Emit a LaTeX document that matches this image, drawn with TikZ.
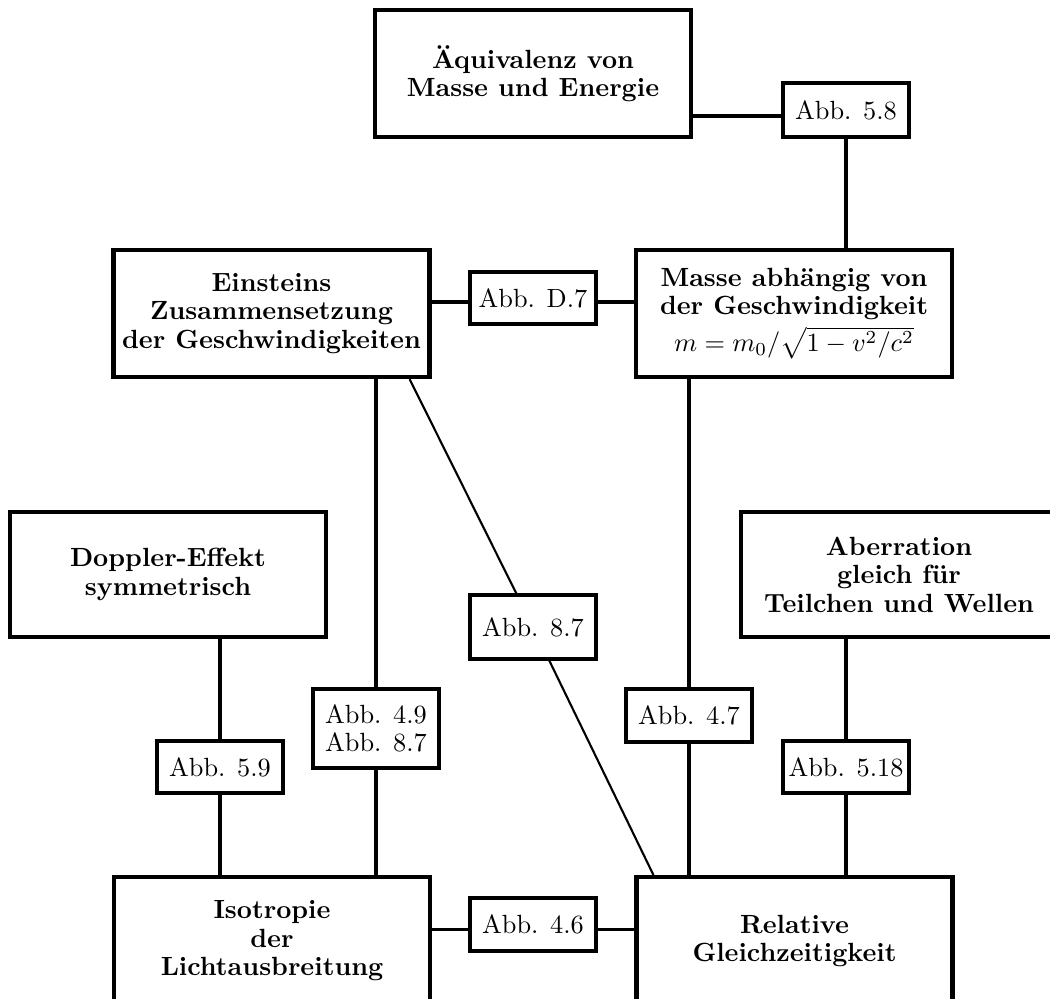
\documentclass[tikz,border=0pt]{standalone}
\usetikzlibrary{calc}
\tikzset{
  bigbox/.style={draw, line width=1.6pt, minimum width=316*0.38pt, minimum height=127*0.38pt,
    align=center, inner sep=0pt, font=\fontsize{10}{10.8}\selectfont\bfseries},
  refbox/.style={draw, line width=1.2pt, minimum width=126*0.38pt, minimum height=52*0.38pt,
    align=center, inner sep=0pt, font=\fontsize{10}{10.4}\selectfont},
  link/.style={line width=1.2pt},
  diag/.style={line width=0.8pt},
}
\begin{document}
\begin{tikzpicture}[x=0.38pt, y=-0.38pt]
\useasboundingbox (0,0) rectangle (1050,998);
\clip (0,0) rectangle (1050,998);
% main boxes
\node[bigbox] (aeq) at (533,73.5) {Äquivalenz von\\Masse und Energie};
\node[bigbox] (ein) at (271.5,313.5) {Einsteins\\Zusammensetzung\\der Geschwindigkeiten};
\node[bigbox] (mas) at (794,313.5) {Masse abhängig von\\der Geschwindigkeit\\[1.5pt]$m=m_0/\sqrt{1-v^2/c^2}$};
\node[bigbox, minimum height=125*0.38pt] (dop) at (168,574.5) {Doppler-Effekt\\symmetrisch};
\node[bigbox, minimum height=125*0.38pt] (abe) at (899,574.5) {Aberration\\gleich für\\Teilchen und Wellen};
\node[bigbox, minimum height=128*0.38pt] (iso) at (272,941) {Isotropie\\der\\Lichtausbreitung};
\node[bigbox, minimum height=128*0.38pt] (rel) at (794.5,941) {Relative\\Gleichzeitigkeit};
% reference boxes
\node[refbox, minimum height=54*0.38pt] (a58) at (846,110) {Abb. 5.8};
\node[refbox] (aD7) at (533,298) {Abb. D.7};
\node[refbox, minimum height=64*0.38pt] (a87) at (533,627) {Abb. 8.7};
\node[refbox, minimum height=79*0.38pt] (a49) at (376,728.5) {Abb. 4.9\\Abb. 8.7};
\node[refbox, minimum height=53*0.38pt] (a47) at (689,715.5) {Abb. 4.7};
\node[refbox] (a59) at (220,767) {Abb. 5.9};
\node[refbox] (a518) at (846,767) {Abb. 5.18};
\node[refbox, minimum height=53*0.38pt] (a46) at (533,924.5) {Abb. 4.6};
% connectors
\coordinate (l1) at ([yshift=-2.28pt]a58.west);
\draw[link] (l1 -| aeq.east) -- (l1);
\draw[link] (a58.south) -- (a58.south |- mas.north);
\coordinate (l2) at ([yshift=-1.52pt]aD7.west);
\draw[link] (l2 -| ein.east) -- (l2);
\draw[link] (l2 -| aD7.east) -- (l2 -| mas.west);
\draw[link] (a49.north |- ein.south) -- (a49.north);
\draw[link] (a49.south) -- (a49.south |- iso.north);
\draw[link] (a47.north |- mas.south) -- (a47.north);
\draw[link] (a47.south) -- (a47.south |- rel.north);
\draw[link] (a59.north |- dop.south) -- (a59.north);
\draw[link] (a59.south) -- (a59.south |- iso.north);
\draw[link] (a518.north |- abe.south) -- (a518.north);
\draw[link] (a518.south) -- (a518.south |- rel.north);
\coordinate (l3) at ([yshift=-1.9pt]a46.west);
\draw[link] (l3 -| iso.east) -- (l3);
\draw[link] (l3 -| a46.east) -- (l3 -| rel.west);
\draw[diag] ([xshift=-22*0.38pt]ein.south east) -- (a87);
\draw[diag] (a87) -- ([xshift=19*0.38pt]rel.north west);
\end{tikzpicture}
\end{document}
